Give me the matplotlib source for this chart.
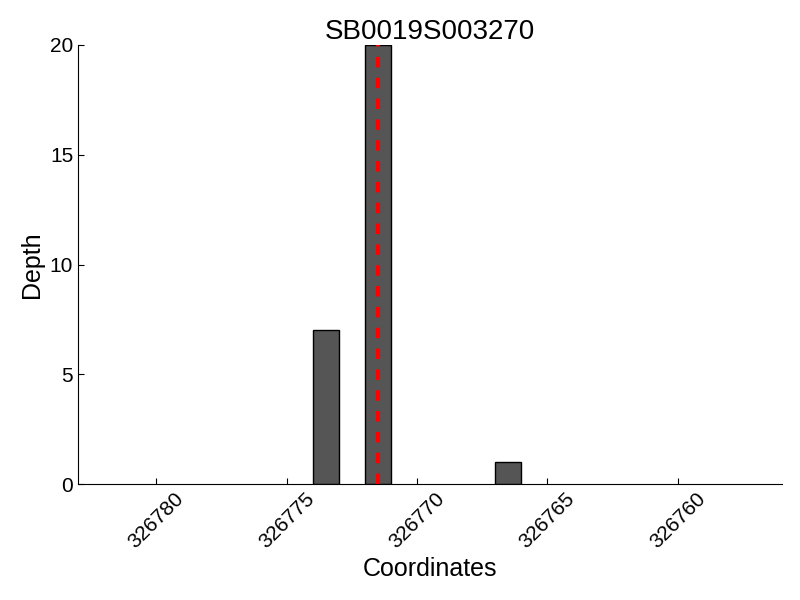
import matplotlib
matplotlib.use("Agg")
import matplotlib.pyplot as plt

plt.rcParams['font.family'] = ['Liberation Sans', 'DejaVu Sans']

# read coverage per position
positions = [326773, 326771, 326766]
depths = [7, 20, 1]
snp_pos = 326771.5
title = "SB0019S003270"

fig = plt.figure(figsize=(8, 6), dpi=100)
ax = fig.add_axes([0.0975, 0.193, 0.88, 0.732])

ax.bar(positions, depths, width=1, align='edge', color='#555555',
       edgecolor='black', linewidth=1)
ax.axvline(snp_pos, color='red', linestyle='--', linewidth=3, dashes=(2.5, 2.5))

ax.set_xlim(326783, 326756)
ax.set_ylim(0, 20)
ax.ticklabel_format(useOffset=False, style='plain', axis='x')
ax.set_xticks([326780, 326775, 326770, 326765, 326760])
ax.set_yticks([0, 5, 10, 15, 20])
ax.spines['top'].set_visible(False)
ax.spines['right'].set_visible(False)
ax.tick_params(direction='in', length=4, labelsize=15, top=False, right=False)
for lbl in ax.get_xticklabels():
    lbl.set_rotation(45)

ax.set_xlabel("Coordinates", fontsize=18)
ax.set_ylabel("Depth", fontsize=18)
ax.set_title(title, fontsize=20, pad=4)

fig.savefig("out.png", dpi=100)
